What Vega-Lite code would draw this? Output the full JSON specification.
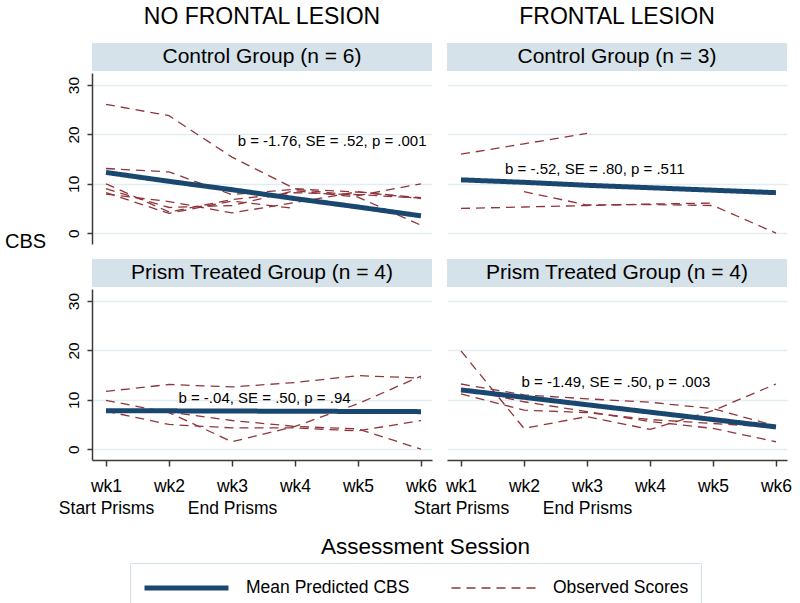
{
  "$schema": "https://vega.github.io/schema/vega-lite/v6.json",
  "padding": {"left": 4, "top": 6, "right": 8, "bottom": 0},
  "background": "white",
  "config": {
    "font": "Liberation Sans",
    "view": {"stroke": null},
    "axis": {"gridColor": "#e3edf1", "gridWidth": 1.3, "domainColor": "#3a3a3a", "domainWidth": 1.5, "tickColor": "#3a3a3a", "tickWidth": 1.5, "labelColor": "#000000", "labelFont": "Liberation Sans", "titleFont": "Liberation Sans", "titleColor": "#000000"},
    "legend": {"orient": "none", "legendX": 38, "legendY": 520, "direction": "horizontal", "columns": 2, "symbolType": "M-1,0H7", "symbolSize": 441, "labelFontSize": 17.5, "labelColor": "#000000", "labelFont": "Liberation Sans", "labelOffset": 78, "columnPadding": 38, "padding": 12, "strokeColor": "#d3dfe6", "fillColor": "white", "labelLimit": 300},
    "title": {"font": "Liberation Sans", "fontWeight": "normal", "color": "#000000"}
  },
  "datasets": {
    "d": [
      {"L":"NF","G":"C","s":"1","wk":1,"v":26.1,"series":"Observed Scores"},
      {"L":"NF","G":"C","s":"1","wk":2,"v":23.8,"series":"Observed Scores"},
      {"L":"NF","G":"C","s":"1","wk":3,"v":15.4,"series":"Observed Scores"},
      {"L":"NF","G":"C","s":"1","wk":4,"v":9.0,"series":"Observed Scores"},
      {"L":"NF","G":"C","s":"1","wk":5,"v":8.3,"series":"Observed Scores"},
      {"L":"NF","G":"C","s":"1","wk":6,"v":7.2,"series":"Observed Scores"},
      {"L":"NF","G":"C","s":"2","wk":1,"v":13.1,"series":"Observed Scores"},
      {"L":"NF","G":"C","s":"2","wk":2,"v":12.4,"series":"Observed Scores"},
      {"L":"NF","G":"C","s":"2","wk":3,"v":7.8,"series":"Observed Scores"},
      {"L":"NF","G":"C","s":"2","wk":4,"v":8.9,"series":"Observed Scores"},
      {"L":"NF","G":"C","s":"2","wk":5,"v":7.6,"series":"Observed Scores"},
      {"L":"NF","G":"C","s":"2","wk":6,"v":10.0,"series":"Observed Scores"},
      {"L":"NF","G":"C","s":"3","wk":1,"v":10.0,"series":"Observed Scores"},
      {"L":"NF","G":"C","s":"3","wk":2,"v":4.3,"series":"Observed Scores"},
      {"L":"NF","G":"C","s":"3","wk":3,"v":6.8,"series":"Observed Scores"},
      {"L":"NF","G":"C","s":"3","wk":4,"v":8.2,"series":"Observed Scores"},
      {"L":"NF","G":"C","s":"3","wk":5,"v":7.8,"series":"Observed Scores"},
      {"L":"NF","G":"C","s":"3","wk":6,"v":7.1,"series":"Observed Scores"},
      {"L":"NF","G":"C","s":"4","wk":1,"v":7.9,"series":"Observed Scores"},
      {"L":"NF","G":"C","s":"4","wk":2,"v":6.4,"series":"Observed Scores"},
      {"L":"NF","G":"C","s":"4","wk":3,"v":4.1,"series":"Observed Scores"},
      {"L":"NF","G":"C","s":"4","wk":4,"v":6.2,"series":"Observed Scores"},
      {"L":"NF","G":"C","s":"4","wk":5,"v":8.4,"series":"Observed Scores"},
      {"L":"NF","G":"C","s":"4","wk":6,"v":7.0,"series":"Observed Scores"},
      {"L":"NF","G":"C","s":"5","wk":1,"v":9.0,"series":"Observed Scores"},
      {"L":"NF","G":"C","s":"5","wk":2,"v":5.2,"series":"Observed Scores"},
      {"L":"NF","G":"C","s":"5","wk":3,"v":5.6,"series":"Observed Scores"},
      {"L":"NF","G":"C","s":"5","wk":4,"v":8.6,"series":"Observed Scores"},
      {"L":"NF","G":"C","s":"5","wk":5,"v":7.3,"series":"Observed Scores"},
      {"L":"NF","G":"C","s":"5","wk":6,"v":1.6,"series":"Observed Scores"},
      {"L":"NF","G":"C","s":"6","wk":1,"v":8.2,"series":"Observed Scores"},
      {"L":"NF","G":"C","s":"6","wk":2,"v":4.0,"series":"Observed Scores"},
      {"L":"NF","G":"C","s":"6","wk":3,"v":6.5,"series":"Observed Scores"},
      {"L":"NF","G":"C","s":"6","wk":4,"v":5.0,"series":"Observed Scores"},
      {"L":"NF","G":"C","s":"m","wk":1,"v":12.3,"series":"Mean Predicted CBS"},
      {"L":"NF","G":"C","s":"m","wk":2,"v":10.5,"series":"Mean Predicted CBS"},
      {"L":"NF","G":"C","s":"m","wk":3,"v":8.8,"series":"Mean Predicted CBS"},
      {"L":"NF","G":"C","s":"m","wk":4,"v":7.0,"series":"Mean Predicted CBS"},
      {"L":"NF","G":"C","s":"m","wk":5,"v":5.3,"series":"Mean Predicted CBS"},
      {"L":"NF","G":"C","s":"m","wk":6,"v":3.5,"series":"Mean Predicted CBS"},
      {"L":"F","G":"C","s":"1","wk":1,"v":16.0,"series":"Observed Scores"},
      {"L":"F","G":"C","s":"1","wk":2,"v":18.1,"series":"Observed Scores"},
      {"L":"F","G":"C","s":"1","wk":3,"v":20.2,"series":"Observed Scores"},
      {"L":"F","G":"C","s":"2","wk":1,"v":5.0,"series":"Observed Scores"},
      {"L":"F","G":"C","s":"2","wk":2,"v":5.3,"series":"Observed Scores"},
      {"L":"F","G":"C","s":"2","wk":3,"v":5.6,"series":"Observed Scores"},
      {"L":"F","G":"C","s":"2","wk":4,"v":5.9,"series":"Observed Scores"},
      {"L":"F","G":"C","s":"2","wk":5,"v":6.1,"series":"Observed Scores"},
      {"L":"F","G":"C","s":"3","wk":2,"v":8.4,"series":"Observed Scores"},
      {"L":"F","G":"C","s":"3","wk":3,"v":5.7,"series":"Observed Scores"},
      {"L":"F","G":"C","s":"3","wk":4,"v":5.8,"series":"Observed Scores"},
      {"L":"F","G":"C","s":"3","wk":5,"v":5.6,"series":"Observed Scores"},
      {"L":"F","G":"C","s":"3","wk":6,"v":0.0,"series":"Observed Scores"},
      {"L":"F","G":"C","s":"m","wk":1,"v":10.8,"series":"Mean Predicted CBS"},
      {"L":"F","G":"C","s":"m","wk":2,"v":10.3,"series":"Mean Predicted CBS"},
      {"L":"F","G":"C","s":"m","wk":3,"v":9.7,"series":"Mean Predicted CBS"},
      {"L":"F","G":"C","s":"m","wk":4,"v":9.2,"series":"Mean Predicted CBS"},
      {"L":"F","G":"C","s":"m","wk":5,"v":8.7,"series":"Mean Predicted CBS"},
      {"L":"F","G":"C","s":"m","wk":6,"v":8.2,"series":"Mean Predicted CBS"},
      {"L":"NF","G":"P","s":"1","wk":1,"v":11.7,"series":"Observed Scores"},
      {"L":"NF","G":"P","s":"1","wk":2,"v":13.1,"series":"Observed Scores"},
      {"L":"NF","G":"P","s":"1","wk":3,"v":12.6,"series":"Observed Scores"},
      {"L":"NF","G":"P","s":"1","wk":4,"v":13.5,"series":"Observed Scores"},
      {"L":"NF","G":"P","s":"1","wk":5,"v":14.9,"series":"Observed Scores"},
      {"L":"NF","G":"P","s":"1","wk":6,"v":14.4,"series":"Observed Scores"},
      {"L":"NF","G":"P","s":"2","wk":1,"v":9.9,"series":"Observed Scores"},
      {"L":"NF","G":"P","s":"2","wk":2,"v":7.4,"series":"Observed Scores"},
      {"L":"NF","G":"P","s":"2","wk":3,"v":1.5,"series":"Observed Scores"},
      {"L":"NF","G":"P","s":"2","wk":4,"v":4.6,"series":"Observed Scores"},
      {"L":"NF","G":"P","s":"2","wk":5,"v":9.2,"series":"Observed Scores"},
      {"L":"NF","G":"P","s":"2","wk":6,"v":14.8,"series":"Observed Scores"},
      {"L":"NF","G":"P","s":"3","wk":1,"v":7.7,"series":"Observed Scores"},
      {"L":"NF","G":"P","s":"3","wk":2,"v":5.0,"series":"Observed Scores"},
      {"L":"NF","G":"P","s":"3","wk":3,"v":4.3,"series":"Observed Scores"},
      {"L":"NF","G":"P","s":"3","wk":4,"v":4.3,"series":"Observed Scores"},
      {"L":"NF","G":"P","s":"3","wk":5,"v":3.7,"series":"Observed Scores"},
      {"L":"NF","G":"P","s":"3","wk":6,"v":5.8,"series":"Observed Scores"},
      {"L":"NF","G":"P","s":"4","wk":1,"v":7.8,"series":"Observed Scores"},
      {"L":"NF","G":"P","s":"4","wk":2,"v":7.5,"series":"Observed Scores"},
      {"L":"NF","G":"P","s":"4","wk":3,"v":5.8,"series":"Observed Scores"},
      {"L":"NF","G":"P","s":"4","wk":4,"v":4.6,"series":"Observed Scores"},
      {"L":"NF","G":"P","s":"4","wk":5,"v":4.1,"series":"Observed Scores"},
      {"L":"NF","G":"P","s":"4","wk":6,"v":0.0,"series":"Observed Scores"},
      {"L":"NF","G":"P","s":"m","wk":1,"v":7.8,"series":"Mean Predicted CBS"},
      {"L":"NF","G":"P","s":"m","wk":2,"v":7.76,"series":"Mean Predicted CBS"},
      {"L":"NF","G":"P","s":"m","wk":3,"v":7.72,"series":"Mean Predicted CBS"},
      {"L":"NF","G":"P","s":"m","wk":4,"v":7.68,"series":"Mean Predicted CBS"},
      {"L":"NF","G":"P","s":"m","wk":5,"v":7.64,"series":"Mean Predicted CBS"},
      {"L":"NF","G":"P","s":"m","wk":6,"v":7.6,"series":"Mean Predicted CBS"},
      {"L":"F","G":"P","s":"1","wk":1,"v":19.9,"series":"Observed Scores"},
      {"L":"F","G":"P","s":"1","wk":2,"v":4.2,"series":"Observed Scores"},
      {"L":"F","G":"P","s":"1","wk":3,"v":6.6,"series":"Observed Scores"},
      {"L":"F","G":"P","s":"1","wk":4,"v":4.0,"series":"Observed Scores"},
      {"L":"F","G":"P","s":"1","wk":5,"v":7.8,"series":"Observed Scores"},
      {"L":"F","G":"P","s":"1","wk":6,"v":13.2,"series":"Observed Scores"},
      {"L":"F","G":"P","s":"2","wk":1,"v":13.2,"series":"Observed Scores"},
      {"L":"F","G":"P","s":"2","wk":2,"v":11.0,"series":"Observed Scores"},
      {"L":"F","G":"P","s":"2","wk":3,"v":10.2,"series":"Observed Scores"},
      {"L":"F","G":"P","s":"2","wk":4,"v":9.5,"series":"Observed Scores"},
      {"L":"F","G":"P","s":"2","wk":5,"v":8.2,"series":"Observed Scores"},
      {"L":"F","G":"P","s":"2","wk":6,"v":4.7,"series":"Observed Scores"},
      {"L":"F","G":"P","s":"3","wk":1,"v":12.2,"series":"Observed Scores"},
      {"L":"F","G":"P","s":"3","wk":2,"v":9.6,"series":"Observed Scores"},
      {"L":"F","G":"P","s":"3","wk":3,"v":7.6,"series":"Observed Scores"},
      {"L":"F","G":"P","s":"3","wk":4,"v":5.6,"series":"Observed Scores"},
      {"L":"F","G":"P","s":"3","wk":5,"v":4.2,"series":"Observed Scores"},
      {"L":"F","G":"P","s":"3","wk":6,"v":1.5,"series":"Observed Scores"},
      {"L":"F","G":"P","s":"4","wk":1,"v":11.2,"series":"Observed Scores"},
      {"L":"F","G":"P","s":"4","wk":2,"v":7.9,"series":"Observed Scores"},
      {"L":"F","G":"P","s":"4","wk":3,"v":7.4,"series":"Observed Scores"},
      {"L":"F","G":"P","s":"4","wk":4,"v":6.0,"series":"Observed Scores"},
      {"L":"F","G":"P","s":"4","wk":5,"v":5.2,"series":"Observed Scores"},
      {"L":"F","G":"P","s":"4","wk":6,"v":4.4,"series":"Observed Scores"},
      {"L":"F","G":"P","s":"m","wk":1,"v":12.0,"series":"Mean Predicted CBS"},
      {"L":"F","G":"P","s":"m","wk":2,"v":10.5,"series":"Mean Predicted CBS"},
      {"L":"F","G":"P","s":"m","wk":3,"v":9.0,"series":"Mean Predicted CBS"},
      {"L":"F","G":"P","s":"m","wk":4,"v":7.5,"series":"Mean Predicted CBS"},
      {"L":"F","G":"P","s":"m","wk":5,"v":6.0,"series":"Mean Predicted CBS"},
      {"L":"F","G":"P","s":"m","wk":6,"v":4.5,"series":"Mean Predicted CBS"}
    ],
    "ann": [
      {"L":"NF","G":"C","x":3.09,"y":18.6,"t":"b = -1.76, SE = .52, p = .001"},
      {"L":"F","G":"C","x":1.70,"y":13.0,"t":"b = -.52, SE = .80, p = .511"},
      {"L":"NF","G":"P","x":2.15,"y":10.3,"t":"b = -.04, SE = .50, p = .94"},
      {"L":"F","G":"P","x":1.96,"y":13.7,"t":"b = -1.49, SE = .50, p = .003"}
    ],
    "strips": [
      {"k":"NFC","t":"Control Group (n = 6)"},
      {"k":"FC","t":"Control Group (n = 3)"},
      {"k":"NFP","t":"Prism Treated Group (n = 4)"},
      {"k":"FP","t":"Prism Treated Group (n = 4)"}
    ]
  },
  "bounds": "flush",
  "columns": 2,
  "spacing": {"row": 2, "column": 15},
  "concat": [
    {"width": 340, "height": 28, "title": {"text": "NO FRONTAL LESION", "fontSize": 23, "offset": 14}, "view": {"fill": "#d6e2e9", "stroke": null}, "data": {"name": "strips"}, "transform": [{"filter": "datum.k=='NFC'"}], "mark": {"type": "text", "fontSize": 21, "color": "#000000", "baseline": "middle"}, "encoding": {"text": {"field": "t"}}},
    {"width": 340, "height": 28, "title": {"text": "FRONTAL LESION", "fontSize": 23, "offset": 14}, "view": {"fill": "#d6e2e9", "stroke": null}, "data": {"name": "strips"}, "transform": [{"filter": "datum.k=='FC'"}], "mark": {"type": "text", "fontSize": 21, "color": "#000000", "baseline": "middle"}, "encoding": {"text": {"field": "t"}}},
    {
      "width": 340, "height": 171,
      "layer": [
        {"data": {"name": "d"}, "transform": [{"filter": "datum.L=='NF' && datum.G=='C' && datum.series=='Observed Scores'"}], "mark": {"type": "line"},
         "encoding": {
           "x": {"field": "wk", "type": "quantitative", "scale": {"domain": [0.778, 6.175], "nice": false, "zero": false}, "axis": null},
           "y": {"field": "v", "type": "quantitative", "scale": {"domain": [-2.2, 32.45], "nice": false, "zero": false}, "axis": {"values": [0, 10, 20, 30], "labelAngle": 270, "labelFontSize": 15.5, "tickSize": 5, "labelPadding": 6, "grid": true, "title": "CBS", "titleAngle": 0, "titleX": -67, "titleY": 168, "titleAlign": "center", "titleBaseline": "middle", "titleFontSize": 20, "titleFontWeight": "normal"}},
           "color": {"field": "series", "type": "nominal", "title": null, "scale": {"domain": ["Mean Predicted CBS", "Observed Scores"], "range": ["#1a476f", "#90353b"]}},
           "strokeDash": {"field": "series", "type": "nominal", "title": null, "scale": {"domain": ["Mean Predicted CBS", "Observed Scores"], "range": [[1, 0], [9, 6]]}},
           "strokeWidth": {"field": "series", "type": "nominal", "title": null, "scale": {"domain": ["Mean Predicted CBS", "Observed Scores"], "range": [5, 1.3]}},
           "detail": {"field": "s"}
         }},
        {"data": {"name": "d"}, "transform": [{"filter": "datum.L=='NF' && datum.G=='C' && datum.series=='Mean Predicted CBS'"}], "mark": {"type": "line"},
         "encoding": {
           "x": {"field": "wk", "type": "quantitative", "scale": {"domain": [0.778, 6.175], "nice": false, "zero": false}, "axis": null},
           "y": {"field": "v", "type": "quantitative", "scale": {"domain": [-2.2, 32.45], "nice": false, "zero": false}, "title": "CBS"},
           "color": {"field": "series", "type": "nominal", "title": null, "scale": {"domain": ["Mean Predicted CBS", "Observed Scores"], "range": ["#1a476f", "#90353b"]}},
           "strokeDash": {"field": "series", "type": "nominal", "title": null, "scale": {"domain": ["Mean Predicted CBS", "Observed Scores"], "range": [[1, 0], [9, 6]]}},
           "strokeWidth": {"field": "series", "type": "nominal", "title": null, "scale": {"domain": ["Mean Predicted CBS", "Observed Scores"], "range": [5, 1.3]}},
           "detail": {"field": "s"}
         }},
        {"data": {"name": "ann"}, "transform": [{"filter": "datum.L=='NF' && datum.G=='C'"}], "mark": {"type": "text", "align": "left", "baseline": "middle", "fontSize": 15, "color": "#000000"},
         "encoding": {"x": {"field": "x", "type": "quantitative"}, "y": {"field": "y", "type": "quantitative", "title": "CBS"}, "text": {"field": "t"}}}
      ]
    },
    {
      "width": 340, "height": 171,
      "layer": [
        {"data": {"name": "d"}, "transform": [{"filter": "datum.L=='F' && datum.G=='C' && datum.series=='Observed Scores'"}], "mark": {"type": "line"},
         "encoding": {
           "x": {"field": "wk", "type": "quantitative", "scale": {"domain": [0.778, 6.175], "nice": false, "zero": false}, "axis": null},
           "y": {"field": "v", "type": "quantitative", "scale": {"domain": [-2.2, 32.45], "nice": false, "zero": false}, "axis": {"values": [0, 10, 20, 30], "labels": false, "ticks": false, "domain": false, "grid": true, "title": null}},
           "color": {"field": "series", "type": "nominal", "title": null, "scale": {"domain": ["Mean Predicted CBS", "Observed Scores"], "range": ["#1a476f", "#90353b"]}},
           "strokeDash": {"field": "series", "type": "nominal", "title": null, "scale": {"domain": ["Mean Predicted CBS", "Observed Scores"], "range": [[1, 0], [9, 6]]}},
           "strokeWidth": {"field": "series", "type": "nominal", "title": null, "scale": {"domain": ["Mean Predicted CBS", "Observed Scores"], "range": [5, 1.3]}},
           "detail": {"field": "s"}
         }},
        {"data": {"name": "d"}, "transform": [{"filter": "datum.L=='F' && datum.G=='C' && datum.series=='Mean Predicted CBS'"}], "mark": {"type": "line"},
         "encoding": {
           "x": {"field": "wk", "type": "quantitative", "scale": {"domain": [0.778, 6.175], "nice": false, "zero": false}, "axis": null},
           "y": {"field": "v", "type": "quantitative", "scale": {"domain": [-2.2, 32.45], "nice": false, "zero": false}, "title": null},
           "color": {"field": "series", "type": "nominal", "title": null, "scale": {"domain": ["Mean Predicted CBS", "Observed Scores"], "range": ["#1a476f", "#90353b"]}},
           "strokeDash": {"field": "series", "type": "nominal", "title": null, "scale": {"domain": ["Mean Predicted CBS", "Observed Scores"], "range": [[1, 0], [9, 6]]}},
           "strokeWidth": {"field": "series", "type": "nominal", "title": null, "scale": {"domain": ["Mean Predicted CBS", "Observed Scores"], "range": [5, 1.3]}},
           "detail": {"field": "s"}
         }},
        {"data": {"name": "ann"}, "transform": [{"filter": "datum.L=='F' && datum.G=='C'"}], "mark": {"type": "text", "align": "left", "baseline": "middle", "fontSize": 15, "color": "#000000"},
         "encoding": {"x": {"field": "x", "type": "quantitative"}, "y": {"field": "y", "type": "quantitative", "title": null}, "text": {"field": "t"}}}
      ]
    },
    {"width": 340, "height": 11, "data": {"values": []}, "mark": "point"},
    {"width": 340, "height": 11, "data": {"values": []}, "mark": "point"},
    {"width": 340, "height": 28, "view": {"fill": "#d6e2e9", "stroke": null}, "data": {"name": "strips"}, "transform": [{"filter": "datum.k=='NFP'"}], "mark": {"type": "text", "fontSize": 21, "color": "#000000", "baseline": "middle"}, "encoding": {"text": {"field": "t"}}},
    {"width": 340, "height": 28, "view": {"fill": "#d6e2e9", "stroke": null}, "data": {"name": "strips"}, "transform": [{"filter": "datum.k=='FP'"}], "mark": {"type": "text", "fontSize": 21, "color": "#000000", "baseline": "middle"}, "encoding": {"text": {"field": "t"}}},
    {
      "width": 340, "height": 171,
      "layer": [
        {"data": {"name": "d"}, "transform": [{"filter": "datum.L=='NF' && datum.G=='P' && datum.series=='Observed Scores'"}], "mark": {"type": "line"},
         "encoding": {
           "x": {"field": "wk", "type": "quantitative", "scale": {"domain": [0.778, 6.175], "nice": false, "zero": false}, "axis": {"values": [1, 2, 3, 4, 5, 6], "labelExpr": "datum.value==1?['wk1','Start Prisms']:datum.value==3?['wk3','End Prisms']:'wk'+datum.value", "grid": false, "labelFontSize": 17.5, "labelLineHeight": 22, "labelOverlap": false, "labelBound": false, "labelFlush": false, "tickSize": 6, "labelPadding": 11, "title": "Assessment Session", "titleFontSize": 22.5, "titleFontWeight": "normal", "titleX": 333, "titleY": 86, "titleAlign": "center", "titleBaseline": "middle", "titleAnchor": null}},
           "y": {"field": "v", "type": "quantitative", "scale": {"domain": [-2.2, 32.45], "nice": false, "zero": false}, "axis": {"values": [0, 10, 20, 30], "labelAngle": 270, "labelFontSize": 15.5, "tickSize": 5, "labelPadding": 6, "grid": true, "title": null}},
           "color": {"field": "series", "type": "nominal", "title": null, "scale": {"domain": ["Mean Predicted CBS", "Observed Scores"], "range": ["#1a476f", "#90353b"]}},
           "strokeDash": {"field": "series", "type": "nominal", "title": null, "scale": {"domain": ["Mean Predicted CBS", "Observed Scores"], "range": [[1, 0], [9, 6]]}},
           "strokeWidth": {"field": "series", "type": "nominal", "title": null, "scale": {"domain": ["Mean Predicted CBS", "Observed Scores"], "range": [5, 1.3]}},
           "detail": {"field": "s"}
         }},
        {"data": {"name": "d"}, "transform": [{"filter": "datum.L=='NF' && datum.G=='P' && datum.series=='Mean Predicted CBS'"}], "mark": {"type": "line"},
         "encoding": {
           "x": {"field": "wk", "type": "quantitative", "scale": {"domain": [0.778, 6.175], "nice": false, "zero": false}, "title": "Assessment Session"},
           "y": {"field": "v", "type": "quantitative", "scale": {"domain": [-2.2, 32.45], "nice": false, "zero": false}, "title": null},
           "color": {"field": "series", "type": "nominal", "title": null, "scale": {"domain": ["Mean Predicted CBS", "Observed Scores"], "range": ["#1a476f", "#90353b"]}},
           "strokeDash": {"field": "series", "type": "nominal", "title": null, "scale": {"domain": ["Mean Predicted CBS", "Observed Scores"], "range": [[1, 0], [9, 6]]}},
           "strokeWidth": {"field": "series", "type": "nominal", "title": null, "scale": {"domain": ["Mean Predicted CBS", "Observed Scores"], "range": [5, 1.3]}},
           "detail": {"field": "s"}
         }},
        {"data": {"name": "ann"}, "transform": [{"filter": "datum.L=='NF' && datum.G=='P'"}], "mark": {"type": "text", "align": "left", "baseline": "middle", "fontSize": 15, "color": "#000000"},
         "encoding": {"x": {"field": "x", "type": "quantitative", "title": "Assessment Session"}, "y": {"field": "y", "type": "quantitative", "title": null}, "text": {"field": "t"}}}
      ]
    },
    {
      "width": 340, "height": 171,
      "layer": [
        {"data": {"name": "d"}, "transform": [{"filter": "datum.L=='F' && datum.G=='P' && datum.series=='Observed Scores'"}], "mark": {"type": "line"},
         "encoding": {
           "x": {"field": "wk", "type": "quantitative", "scale": {"domain": [0.778, 6.175], "nice": false, "zero": false}, "axis": {"values": [1, 2, 3, 4, 5, 6], "labelExpr": "datum.value==1?['wk1','Start Prisms']:datum.value==3?['wk3','End Prisms']:'wk'+datum.value", "grid": false, "labelFontSize": 17.5, "labelLineHeight": 22, "labelOverlap": false, "labelBound": false, "labelFlush": false, "tickSize": 6, "labelPadding": 11, "title": null}},
           "y": {"field": "v", "type": "quantitative", "scale": {"domain": [-2.2, 32.45], "nice": false, "zero": false}, "axis": {"values": [0, 10, 20, 30], "labels": false, "ticks": false, "domain": false, "grid": true, "title": null}},
           "color": {"field": "series", "type": "nominal", "title": null, "scale": {"domain": ["Mean Predicted CBS", "Observed Scores"], "range": ["#1a476f", "#90353b"]}},
           "strokeDash": {"field": "series", "type": "nominal", "title": null, "scale": {"domain": ["Mean Predicted CBS", "Observed Scores"], "range": [[1, 0], [9, 6]]}},
           "strokeWidth": {"field": "series", "type": "nominal", "title": null, "scale": {"domain": ["Mean Predicted CBS", "Observed Scores"], "range": [5, 1.3]}},
           "detail": {"field": "s"}
         }},
        {"data": {"name": "d"}, "transform": [{"filter": "datum.L=='F' && datum.G=='P' && datum.series=='Mean Predicted CBS'"}], "mark": {"type": "line"},
         "encoding": {
           "x": {"field": "wk", "type": "quantitative", "scale": {"domain": [0.778, 6.175], "nice": false, "zero": false}, "title": null},
           "y": {"field": "v", "type": "quantitative", "scale": {"domain": [-2.2, 32.45], "nice": false, "zero": false}, "title": null},
           "color": {"field": "series", "type": "nominal", "title": null, "scale": {"domain": ["Mean Predicted CBS", "Observed Scores"], "range": ["#1a476f", "#90353b"]}},
           "strokeDash": {"field": "series", "type": "nominal", "title": null, "scale": {"domain": ["Mean Predicted CBS", "Observed Scores"], "range": [[1, 0], [9, 6]]}},
           "strokeWidth": {"field": "series", "type": "nominal", "title": null, "scale": {"domain": ["Mean Predicted CBS", "Observed Scores"], "range": [5, 1.3]}},
           "detail": {"field": "s"}
         }},
        {"data": {"name": "ann"}, "transform": [{"filter": "datum.L=='F' && datum.G=='P'"}], "mark": {"type": "text", "align": "left", "baseline": "middle", "fontSize": 15, "color": "#000000"},
         "encoding": {"x": {"field": "x", "type": "quantitative", "title": null}, "y": {"field": "y", "type": "quantitative", "title": null}, "text": {"field": "t"}}}
      ]
    }
  ]
}
